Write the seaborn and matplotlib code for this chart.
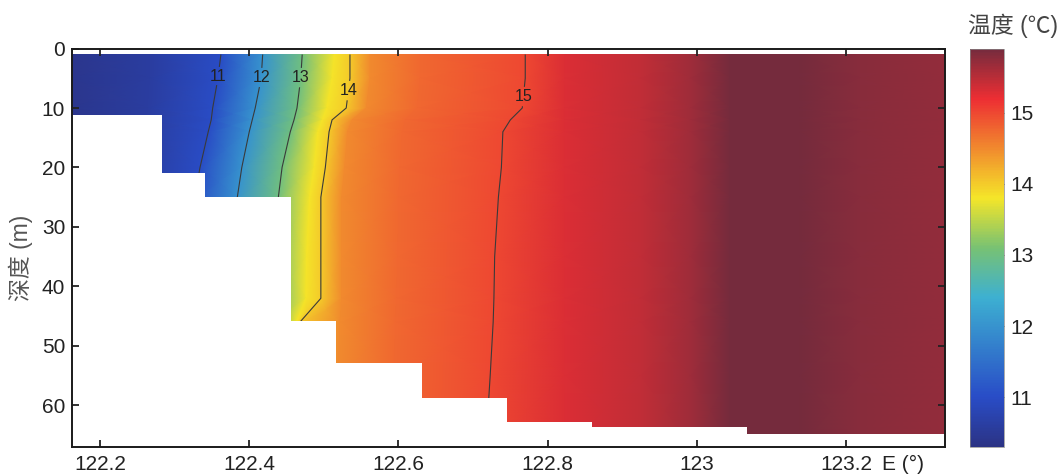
import numpy as np
import seaborn as sns
import matplotlib.pyplot as plt
from matplotlib.colors import LinearSegmentedColormap

# depth rows (m) at which the isotherm longitudes were read
depths = [1, 5, 10, 12, 14, 20, 25, 35, 42, 46, 55, 67]

# longitude (deg E) of each isotherm at every depth row
lon_t104 = [122.16, 122.16, 122.16, 122.16, 122.16, 122.16, 122.16, 122.16, 122.16, 122.16, 122.16, 122.16]
lon_t106 = [122.267, 122.267, 122.264, 122.263, 122.262, 122.259, 122.256, 122.254, 122.252, 122.251, 122.248, 122.246]
lon_t11 = [122.362, 122.358, 122.351, 122.349, 122.345, 122.334, 122.327, 122.321, 122.317, 122.314, 122.311, 122.307]
lon_t12 = [122.418, 122.416, 122.408, 122.404, 122.400, 122.390, 122.384, 122.377, 122.373, 122.370, 122.368, 122.364]
lon_t13 = [122.471, 122.469, 122.464, 122.460, 122.455, 122.444, 122.439, 122.436, 122.438, 122.439, 122.439, 122.439]
lon_t138 = [122.514, 122.511, 122.504, 122.498, 122.492, 122.487, 122.481, 122.477, 122.476, 122.463, 122.455, 122.455]
lon_t14 = [122.535, 122.535, 122.530, 122.511, 122.507, 122.502, 122.496, 122.496, 122.496, 122.468, 122.461, 122.461]
lon_t145 = [122.562, 122.562, 122.557, 122.538, 122.532, 122.528, 122.524, 122.524, 122.524, 122.522, 122.519, 122.516]
lon_t1475 = [122.629, 122.629, 122.625, 122.609, 122.605, 122.602, 122.600, 122.599, 122.597, 122.596, 122.594, 122.591]
lon_t15 = [122.770, 122.770, 122.766, 122.750, 122.740, 122.738, 122.734, 122.729, 122.728, 122.727, 122.723, 122.717]
# warm eastern bands are nearly vertical
east_temps = [15.3, 15.45, 15.65, 15.9, 15.9, 15.78, 15.72]
east_lons = [122.823, 122.924, 122.991, 123.045, 123.138, 123.219, 123.335]

west_temps = [10.4, 10.6, 11, 12, 13, 13.8, 14, 14.5, 14.75, 15]

# sea floor steps (start longitude, bottom depth)
bottom_lon = [122.16, 122.283, 122.341, 122.456, 122.516, 122.632, 122.746, 122.860, 123.067, 123.34]
bottom_dep = [11.2, 20.9, 24.9, 45.8, 52.9, 58.7, 62.8, 63.6, 64.8, 64.8]

levels = [11, 12, 13, 14, 15]
label_pos = [(122.357, 4.6), (122.419, 4.9), (122.470, 4.9), (122.535, 7.1), (122.770, 8.1)]
xticks = [122.2, 122.4, 122.6, 122.8, 123.0, 123.2]
xticklabels = ['122.2', '122.4', '122.6', '122.8', '123', '123.2']

sns.set_theme(style='ticks')
plt.rcParams['font.family'] = ['Liberation Sans', 'Noto Sans CJK SC', 'DejaVu Sans']

# build the section grid
west = [lon_t104, lon_t106, lon_t11, lon_t12, lon_t13, lon_t138, lon_t14,
        lon_t145, lon_t1475, lon_t15]
cols = [np.array(c) for c in west] + [np.full(len(depths), e) for e in east_lons]
LON = np.column_stack(cols)
temps = west_temps + east_temps
TEMP = np.tile(temps, (len(depths), 1)).astype(float)
DEP = np.tile(np.array(depths, dtype=float)[:, None], (1, len(temps)))

# matlab-style jet, with the faded tones of the printed page
cmap = LinearSegmentedColormap.from_list('jet_print', [
    (0.0, (0.17, 0.20, 0.52)),
    (0.125, (0.16, 0.30, 0.78)),
    (0.375, (0.24, 0.69, 0.82)),
    (0.5, (0.47, 0.76, 0.45)),
    (0.625, (0.96, 0.90, 0.16)),
    (0.875, (0.93, 0.18, 0.20)),
    (1.0, (0.46, 0.17, 0.24)),
])

fig = plt.figure(figsize=(10.6, 4.76), dpi=100)
ax = fig.add_axes([0.068, 0.061, 0.8235, 0.837])
cax = fig.add_axes([0.915, 0.061, 0.032, 0.837])

mesh = ax.pcolormesh(LON, DEP, TEMP, shading='gouraud', cmap=cmap,
                     vmin=10.3, vmax=15.9, zorder=1)
cs = ax.contour(LON, DEP, TEMP, levels=levels, colors='#3a3a3a',
                linewidths=0.8, zorder=1.5)
lbls = ax.clabel(cs, fmt='%d', manual=label_pos, fontsize=11.5,
                 inline=True, inline_spacing=1, colors='#222222')
for t in lbls:
    t.set_rotation(0)

# sea floor
ax.fill_between(bottom_lon, bottom_dep, 70, step='post', color='white',
                linewidth=0, zorder=2)

ax.set_xlim(122.1625, 123.3327)
ax.set_ylim(67, 0)
ax.set_xticks(xticks)
ax.set_xticklabels(xticklabels)
ax.set_yticks([0, 10, 20, 30, 40, 50, 60])
ax.tick_params(direction='in', top=True, right=True, length=5, width=1.3,
               labelsize=15, colors='#222222', pad=5)
ax.tick_params(axis='x', pad=6)
for s in ax.spines.values():
    s.set_linewidth(1.4)
    s.set_color('#1a1a1a')
    s.set_zorder(3)
ax.set_axisbelow(False)

ax.annotate('E (°)', xy=(123.2, 0), xycoords=('data', 'axes fraction'),
            xytext=(26, -6), textcoords='offset points', ha='left', va='top',
            fontsize=15, color='#222222')

ax.set_ylabel('深度 (m)', fontsize=16.5, color='#555555')
ax.yaxis.set_label_coords(-0.045, 0.474)

cb = fig.colorbar(mesh, cax=cax, ticks=levels)
cb.outline.set_linewidth(0.5)
cb.outline.set_edgecolor('#888888')
cax.tick_params(direction='in', length=3, width=0.6, labelsize=15,
                colors='#222222', pad=5)
fig.text(0.956, 0.945, '温度 (℃)', ha='center', va='center', fontsize=16.5,
         color='#444444')

fig.savefig('out.png', dpi=100)
